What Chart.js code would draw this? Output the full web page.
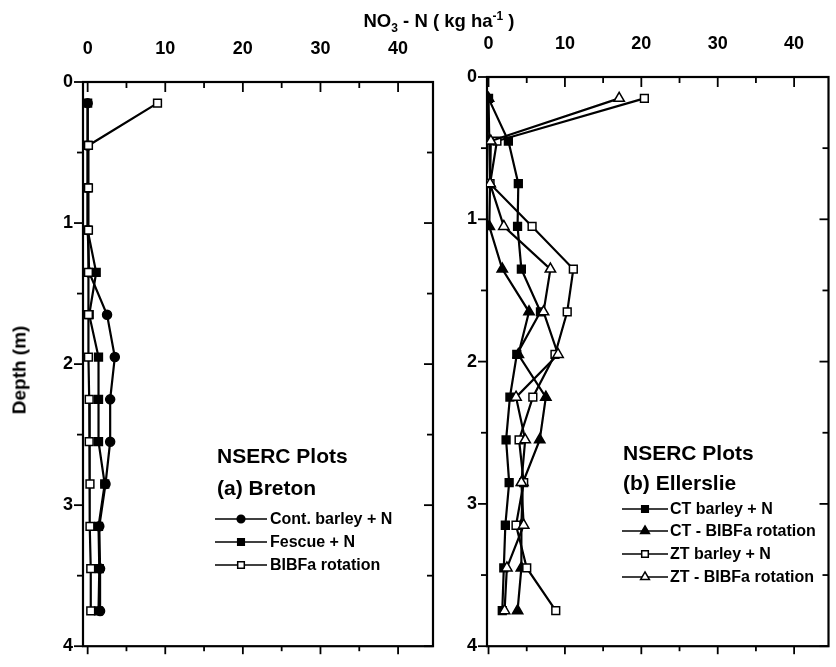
<!DOCTYPE html>
<html><head><meta charset="utf-8">
<script src="https://cdn.jsdelivr.net/npm/chart.js@4.4.1/dist/chart.umd.min.js"></script>
<style>
html,body{margin:0;padding:0;background:#fff;}
body{width:836px;height:667px;overflow:hidden;position:relative;font-family:'Liberation Sans',Arial,sans-serif;color:#000;}
canvas{position:absolute;top:0;}
.t{position:absolute;white-space:nowrap;font-weight:bold;line-height:1;}
.t sub,.t sup{font-size:12px;line-height:0;}
</style></head><body>
<canvas id="cA" width="445" height="667" style="left:0"></canvas>
<canvas id="cB" width="391" height="667" style="left:445px"></canvas>
<div class="t" id="title" style="left:439px;top:12px;font-size:18.5px;transform:translateX(-50%)">NO<sub>3</sub> - N ( kg ha<sup>-1</sup> )</div>
<div class="t" id="ylab" style="left:19px;top:370px;font-size:19px;transform:translate(-50%,-50%) rotate(-90deg)">Depth (m)</div>
<div id="legends"></div>
<script>
// ---------------- data ----------------
const depths = [0.15,0.45,0.75,1.05,1.35,1.65,1.95,2.25,2.55,2.85,3.15,3.45,3.75];
const xTickValues = [0,10,20,30,40];
const depthTickValues = [0,1,2,3,4];

// (a) Breton
const bretonLabels = ['Cont. barley + N','Fescue + N','BIBFa rotation'];
const bretonContBarley = [0,0,0,0,0.2,2.5,3.5,2.9,2.9,2.3,1.5,1.6,1.6];
const bretonFescue     = [0,0,0,0,1.1,0.2,1.4,1.4,1.4,2.2,1.4,1.5,1.4];
const bretonBIBFa      = [9.0,0.1,0.1,0.1,0.1,0.1,0.1,0.2,0.2,0.3,0.3,0.4,0.4];

// (b) Ellerslie
const ellerslieLabels = ['CT barley + N','CT - BIBFa rotation','ZT barley + N','ZT  - BIBFa rotation'];
const ctBarley = [0,2.6,3.9,3.8,4.3,6.8,3.7,2.8,2.3,2.7,2.2,2.0,1.8];
const ctBIBFa  = [0,0.1,0.2,0.1,1.8,5.3,3.9,7.5,6.7,4.5,4.3,4.3,3.8];
const ztBarley = [20.4,1.1,0.2,5.7,11.1,10.3,8.7,5.8,4.0,4.6,3.6,5.0,8.8];
const ztBIBFa  = [17.1,0.3,0.2,2.0,8.1,7.2,9.1,3.6,4.8,4.3,4.6,2.4,2.1];

// ---------------- helpers ----------------
function pts(vals){ return vals.map((v,i)=>({x:v,y:depths[i]})); }
function ds(label, vals, style, filled, r, order){
  return {label, data:pts(vals), borderColor:'#000', borderWidth:2.2,
    pointStyle:style, pointRadius:r, pointHoverRadius:r,
    pointBackgroundColor: filled?'#000':'#fff', pointBorderColor:'#000',
    pointBorderWidth:1.5, fill:false, tension:0, order};
}
function marker(ctx, style, r, x, y, filled){
  ctx.beginPath();
  if(style==='circle'){ ctx.arc(x,y,r,0,Math.PI*2); }
  else if(style==='rect'){ const s=r*Math.SQRT1_2; ctx.rect(x-s,y-s,2*s,2*s); }
  else { ctx.moveTo(x,y-r); ctx.lineTo(x+r*0.866,y+r*0.5); ctx.lineTo(x-r*0.866,y+r*0.5); ctx.closePath(); }
  ctx.fillStyle = filled?'#000':'#fff'; ctx.fill();
  ctx.strokeStyle='#000'; ctx.lineWidth=1.5; ctx.stroke();
}
const framePlugin = {
  id:'frameTicks',
  beforeDatasetsDraw(chart){
    const {ctx, chartArea:a, scales:{x,y}} = chart;
    ctx.save(); ctx.strokeStyle='#000';
    ctx.lineWidth=2.2;
    ctx.strokeRect(a.left, a.top, a.right-a.left, a.bottom-a.top);
    ctx.lineWidth=1.8;
    const seg=(x1,y1,x2,y2)=>{ctx.beginPath();ctx.moveTo(x1,y1);ctx.lineTo(x2,y2);ctx.stroke();};
    const xs = xTickValues[1]-xTickValues[0];
    for(let v=xTickValues[0]; v<=xTickValues[xTickValues.length-1]; v+=xs/2){
      const px=x.getPixelForValue(v), major=(v%xs===0);
      seg(px,a.top,px,a.top+(major?10:6));
      seg(px,a.bottom,px,a.bottom+(major?8:5));
    }
    const ys = depthTickValues[1]-depthTickValues[0];
    for(let d=depthTickValues[0]; d<=depthTickValues[depthTickValues.length-1]; d+=ys/2){
      const py=y.getPixelForValue(d), major=(d%ys===0);
      seg(a.left-(major?9:6),py,a.left,py);
      seg(a.right-(major?9:6),py,a.right,py);
    }
    ctx.restore();
  },
  afterDraw(chart){
    const o = chart.options.plugins.legendSamples; if(!o) return;
    const ctx=chart.ctx; ctx.save();
    chart.data.datasets.forEach((d,i)=>{
      const y=o.ys[i];
      ctx.strokeStyle='#000'; ctx.lineWidth=1.5;
      ctx.beginPath(); ctx.moveTo(o.x1,y); ctx.lineTo(o.x2,y); ctx.stroke();
      marker(ctx, d.pointStyle, d.pointRadius*0.85, (o.x1+o.x2)/2, y, d.pointBackgroundColor==='#000');
    });
    ctx.restore();
  }
};
const tickFont = {family:"'Liberation Sans', Arial, sans-serif", weight:'bold', size:18};
function makeChart(id, datasets, xmin, xmax, yW, xH, padR, padB, legend){
  return new Chart(document.getElementById(id), {
    type:'line',
    data:{datasets},
    options:{
      responsive:false, animation:false, events:[],
      layout:{padding:{left:0,top:0,right:padR,bottom:padB}},
      plugins:{legend:{display:false}, tooltip:{enabled:false}, legendSamples:legend},
      scales:{
        x:{type:'linear', position:'top', min:xmin, max:xmax,
           grid:{display:false, drawTicks:false}, border:{display:false},
           afterBuildTicks:s=>{s.ticks=xTickValues.map(v=>({value:v}));},
           afterFit:s=>{s.height=xH;},
           ticks:{font:tickFont, color:'#000', padding:22, maxRotation:0, callback:v=>String(v)}},
        y:{type:'linear', position:'left', min:0, max:4, reverse:true,
           grid:{display:false, drawTicks:false}, border:{display:false},
           afterBuildTicks:s=>{s.ticks=depthTickValues.map(v=>({value:v}));},
           afterFit:s=>{s.width=yW;},
           ticks:{font:tickFont, color:'#000', padding:10, callback:v=>String(v)}}
      }
    },
    plugins:[framePlugin]
  });
}

const dsA = [
  ds(bretonLabels[0], bretonContBarley, 'circle', true, 4.5, 2),
  ds(bretonLabels[1], bretonFescue, 'rect', true, 5.5, 1),
  ds(bretonLabels[2], bretonBIBFa, 'rect', false, 5.5, 0)
];
const dsB = [
  ds(ellerslieLabels[0], ctBarley, 'rect', true, 5.5, 3),
  ds(ellerslieLabels[1], ctBIBFa, 'triangle', true, 6, 2),
  ds(ellerslieLabels[2], ztBarley, 'rect', false, 5.5, 1),
  ds(ellerslieLabels[3], ztBIBFa, 'triangle', false, 6, 0)
];
const legA = {x1:215, x2:267, ys:[519,542,565]};
const legB = {x1:177, x2:223, ys:[509,531,554,577]};
makeChart('cA', dsA, -0.6, 44.5, 83, 82, 12, 10, legA);
makeChart('cB', dsB, -0.2, 44.5, 42, 77, 1, 14, legB);

// ---------------- text blocks ----------------
const L = document.getElementById('legends');
function addText(txt, left, cy, size){
  const d=document.createElement('div'); d.className='t'; d.textContent=txt;
  d.style.left=left+'px'; d.style.fontSize=size+'px';
  d.style.top=(cy - size*0.49)+'px'; L.appendChild(d);
}
addText('NSERC Plots', 217, 455, 21);
addText('(a) Breton', 217, 487, 21);
bretonLabels.forEach((t,i)=>addText(t, 270, legA.ys[i], 16));
addText('NSERC Plots', 623, 452, 21);
addText('(b) Ellerslie', 623, 482, 21);
ellerslieLabels.forEach((t,i)=>addText(t, 670, legB.ys[i], 16));
</script>
</body></html>
